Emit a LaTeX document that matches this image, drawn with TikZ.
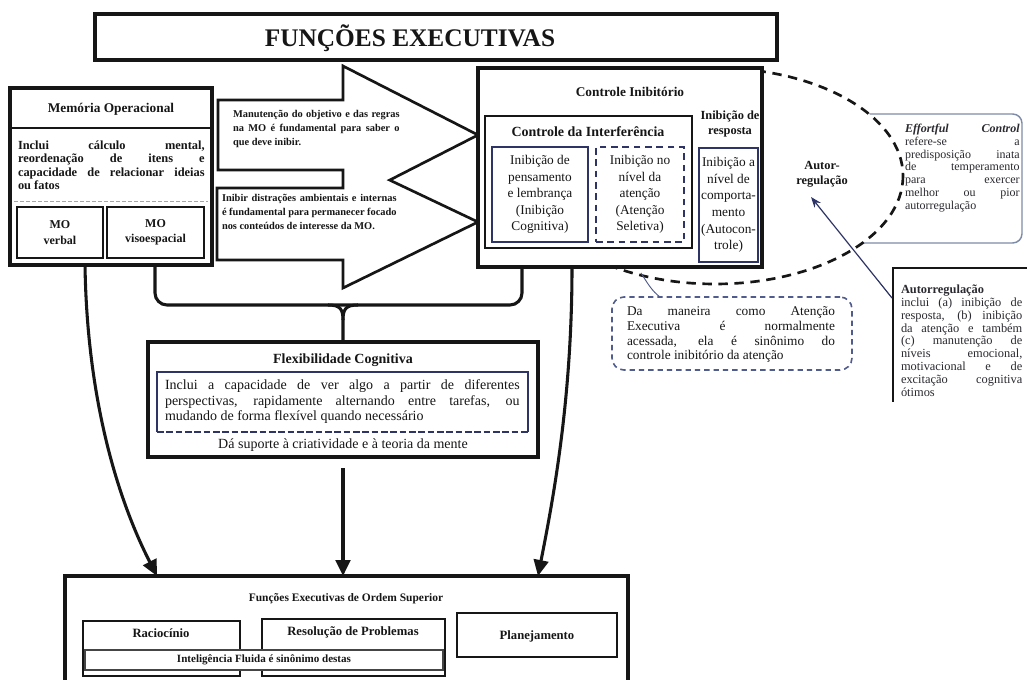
\documentclass[tikz,border=0pt]{standalone}
\usepackage{fontspec}
\setmainfont{Liberation Serif}
\usetikzlibrary{arrows.meta,calc}
\definecolor{inkc}{HTML}{161616}
\definecolor{navy}{HTML}{2E3566}
\definecolor{slate}{HTML}{7F8CA8}
\definecolor{dashblue}{HTML}{505C8E}
\definecolor{greytext}{HTML}{2A2A30}
\newcommand\bx[6]{\node[#6, anchor=north west, minimum width={(#4-#2)*0.75pt}, minimum height={(#5-#3)*0.75pt}] (#1) at (#2,#3) {};}
\newcommand\jl[2]{\makebox[#1][s]{#2}}
\begin{document}
\begin{tikzpicture}[x=0.75pt,y=-0.75pt,
 every node/.style={inner sep=0pt,outer sep=0pt,text=inkc},
 heavy/.style={draw=inkc,line width=2.3pt,fill=white},
 medium/.style={draw=inkc,line width=1.2pt,fill=white},
 fine/.style={draw=navy,line width=0.9pt,fill=white},
 finedash/.style={draw=navy,line width=1.1pt,dash pattern=on 5pt off 3.5pt},
 downarrow/.style={draw=inkc,line width=2.3pt,-{Triangle[width=11pt,length=12pt]}},
 lbl/.style={align=center},
 lft/.style={align=left,anchor=north west},
]
\useasboundingbox (0,0) rectangle (1027,680);
\clip (0,0) rectangle (1027,680);
\fill[white] (0,0) rectangle (1027,680);

\coordinate (c85) at (85,0);
\coordinate (c155) at (155,0);
\coordinate (c157) at (157,0);
\coordinate (c522) at (522,0);
\coordinate (c538) at (538,0);
\coordinate (c572) at (572,0);
\coordinate (c660) at (660,0);
\coordinate (arS) at (892,298);
\coordinate (arE) at (811,197);

% Title
\bx{titlebox}{95}{14}{777}{60}{heavy}
\node[font=\bfseries\fontsize{19}{21}\selectfont] (title) at (410,38) {FUNÇÕES EXECUTIVAS};

% Effortful box and self-regulation ellipse
\bx{effbox}{845}{114}{1022}{243}{draw=slate,line width=1.1pt,rounded corners=7pt}
\draw[draw=inkc,fill=white,line width=2pt,dash pattern=on 7pt off 5pt] (715,176) ellipse [x radius=188,y radius=108];

% Memoria Operacional
\bx{mem}{10}{88}{212}{265}{heavy}
\node[font=\bfseries\fontsize{10}{12}\selectfont] (memt) at (111,109) {Memória Operacional};
\draw[inkc,line width=1.3pt] (12,128) -- (210,128);
\node[lft,font=\bfseries\fontsize{9.3}{10}\selectfont] (memb) at (18,141) {\jl{140pt}{Inclui cálculo mental,}\\\jl{140pt}{reordenação de itens e}\\\jl{140pt}{capacidade de relacionar ideias}\\ou fatos};
\draw[gray!70,line width=0.6pt,dash pattern=on 3pt off 1.5pt] (14,201) -- (208,201);
\bx{mov}{17}{207}{103}{258}{medium}
\bx{mos}{107}{207}{204}{258}{medium}
\node[lbl,font=\bfseries\fontsize{9}{11.5}\selectfont] (movt) at (mov.center) {MO\\verbal};
\node[lbl,font=\bfseries\fontsize{9}{11.5}\selectfont] (most) at (mos.center) {MO\\visoespacial};

% Block arrows
\draw[inkc,fill=white,line width=2pt,line join=miter] (218,100) -- (343,100) -- (343,66) -- (478,135) -- (389.7,180.1) -- (478,222) -- (343,288) -- (343,260) -- (217,260) -- (217,188) -- (343,188) -- (343,170) -- (218,170) -- cycle;
\node[lft,font=\bfseries\fontsize{7.8}{10.5}\selectfont] (a1t) at (233,110) {\jl{125pt}{Manutenção do objetivo e das regras}\\\jl{125pt}{na MO é fundamental para saber o}\\que deve inibir.};
\node[lft,font=\bfseries\fontsize{7.8}{10.5}\selectfont] (a2t) at (222,194) {\jl{131pt}{Inibir distrações ambientais e internas}\\\jl{131pt}{é fundamental para permanecer focado}\\nos conteúdos de interesse da MO.};

% Controle Inibitorio
\bx{ctrl}{478}{68}{762}{267}{heavy}
\node[font=\bfseries\fontsize{10}{12}\selectfont] (ctrlt) at (630,92) {Controle Inibitório};
\bx{interf}{485}{116}{692}{248}{draw=inkc,line width=2pt}
\node[font=\bfseries\fontsize{10.5}{12}\selectfont] (interft) at (588,132) {Controle da Interferência};
\bx{ibA}{492}{147}{588}{242}{fine}
\bx{ibB}{596}{147}{684}{242}{finedash}
\bx{ibC}{699}{148}{758}{262}{fine}
\node[lbl,font=\fontsize{10}{12.4}\selectfont] (ibAt) at (ibA.center) {Inibição de\\pensamento\\e lembrança\\(Inibição\\Cognitiva)};
\node[lbl,font=\fontsize{10}{12.4}\selectfont] (ibBt) at (ibB.center) {Inibição no\\nível da\\atenção\\(Atenção\\Seletiva)};
\node[lbl,font=\fontsize{10}{12.4}\selectfont] (ibCt) at (ibC.center) {Inibição a\\nível de\\comporta-\\mento\\(Autocon-\\trole)};
\node[lbl,font=\bfseries\fontsize{9.3}{11.5}\selectfont] (respt) at (730,124) {Inibição de\\resposta};

% Effortful Control text
\node[lft,font=\fontsize{9}{9.6}\selectfont,text=greytext] (efft) at (905,124) {\jl{86pt}{\textbf{\textit{Effortful Control}}}\\\jl{86pt}{refere-se a}\\\jl{86pt}{predisposição inata}\\\jl{86pt}{de temperamento}\\\jl{86pt}{para exercer}\\\jl{86pt}{melhor ou pior}\\autorregulação};

% Autor-regulacao label
\node[lbl,font=\bfseries\fontsize{9.3}{11.5}\selectfont] (autor) at (822,174) {Autor-\\regulação};

% Autorregulacao box
\draw[inkc,line width=1pt] (1030,268) -- (893,268) -- (893,402);
\node[lft,font=\fontsize{9.3}{9.6}\selectfont,text=greytext] (autot) at (901,285) {\textbf{Autorregulação}\\\jl{91pt}{inclui (a) inibição de}\\\jl{91pt}{resposta, (b) inibição}\\\jl{91pt}{da atenção e também}\\\jl{91pt}{(c) manutenção de}\\\jl{91pt}{níveis emocional,}\\\jl{91pt}{motivacional e de}\\\jl{91pt}{excitação cognitiva}\\ótimos};
\draw[navy,line width=0.9pt,-{Stealth[length=8pt,width=6pt]}] (arS) -- (arE);

% Da maneira box
\bx{damb}{612}{297}{852}{370}{draw=dashblue,line width=1.2pt,dash pattern=on 4pt off 3pt,rounded corners=9pt}
\node[lft,font=\fontsize{10}{11}\selectfont] (dat) at (627,307) {\jl{156pt}{Da maneira como Atenção}\\\jl{156pt}{Executiva é normalmente}\\\jl{156pt}{acessada, ela é sinônimo do}\\controle inibitório da atenção};
\draw[dashblue,line width=0.7pt] (641,273) .. controls (648,284) and (652,291) .. (damb.north -| c660);

% Flexibilidade Cognitiva
\bx{flex}{148}{342}{538}{457}{heavy}
\node[font=\bfseries\fontsize{10.5}{12}\selectfont] (flext) at (343,360) {Flexibilidade Cognitiva};
\draw[navy,line width=0.9pt] (157,432) -- (157,372) -- (528,372) -- (528,432);
\draw[navy,line width=0.8pt,dash pattern=on 5pt off 2pt] (157,432) -- (528,432);
\node[lft,font=\fontsize{10.5}{11.6}\selectfont] (flexb) at (165,380) {\jl{266pt}{Inclui a capacidade de ver algo a partir de diferentes}\\\jl{266pt}{perspectivas, rapidamente alternando entre tarefas, ou}\\mudando de forma flexível quando necessário};
\node[font=\fontsize{10.5}{12}\selectfont] (flexs) at (343,445) {Dá suporte à criatividade e à teoria da mente};

% Bracket
\draw[inkc,line width=2.3pt,rounded corners=9pt] (mem.south -| c155) -- (155,305) -- (522,305) -- (ctrl.south -| c522);
\draw[inkc,line width=2.3pt] (328,305) .. controls (340,305) and (343,309) .. (343,320) -- (flex.north);
\draw[inkc,line width=2.3pt] (358,305) .. controls (346,305) and (343,309) .. (343,320);

% Bottom box
\bx{bot}{65}{576}{628}{705}{heavy}
\node[font=\bfseries\fontsize{8.6}{10}\selectfont] (bott) at (346,599) {Funções Executivas de Ordem Superior};
\bx{rac}{83}{621}{240}{676}{medium}
\bx{res}{262}{619}{445}{676}{medium}
\bx{plan}{457}{613}{617}{657}{medium}
\node[font=\bfseries\fontsize{9.5}{11}\selectfont] (ract) at (161,633) {Raciocínio};
\node[font=\bfseries\fontsize{9.5}{11}\selectfont] (rest) at (353,632) {Resolução de Problemas};
\node[font=\bfseries\fontsize{9.5}{11}\selectfont] (plant) at (537,636) {Planejamento};
\bx{intel}{85}{650}{443}{670}{draw=inkc!80,line width=0.8pt,fill=white}
\node[font=\bfseries\fontsize{8.3}{10}\selectfont] (intelt) at (264,660) {Inteligência Fluida é sinônimo destas};

% Down arrows
\draw[downarrow] (mem.south -| c85) .. controls (87,400) and (118,500) .. (bot.north -| c157);
\draw[downarrow] ($(flex.south)+(0,11)$) -- (bot.north -| flex.south);
\draw[downarrow] (ctrl.south -| c572) .. controls (572,400) and (553,500) .. (bot.north -| c538);
\end{tikzpicture}
\end{document}
